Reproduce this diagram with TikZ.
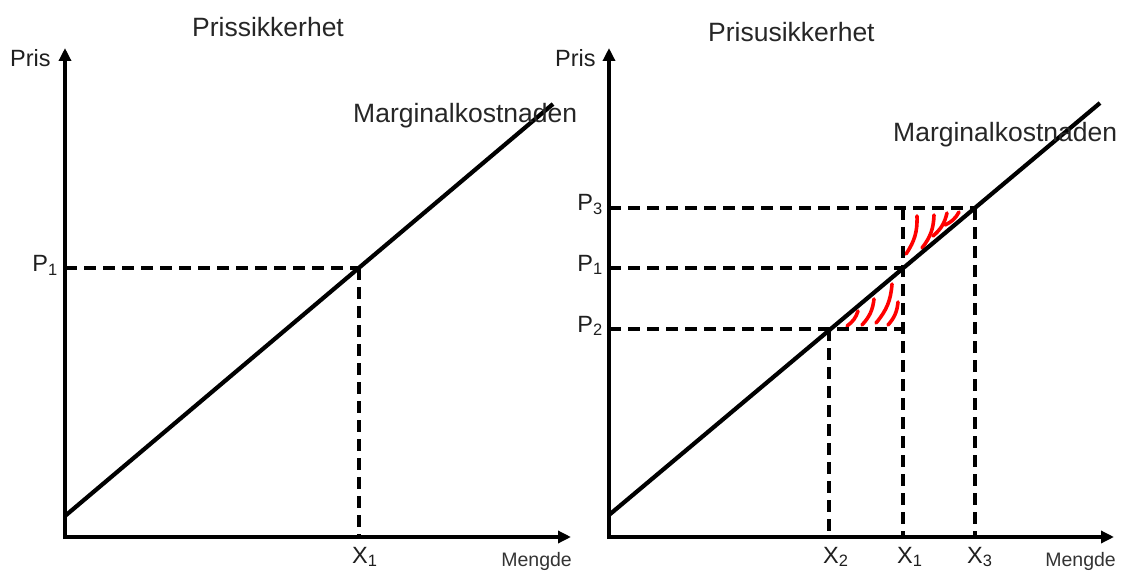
\documentclass[tikz,border=0pt]{standalone}
\usepackage{fontspec}
\setmainfont{Liberation Sans}
\usetikzlibrary{arrows.meta}
\tikzset{
  axisline/.style={line width=4.2pt, -{Triangle[length=13pt,width=12pt]}},
  mccurve/.style={line width=4.2pt},
  guide/.style={line width=4.2pt, dash pattern=on 12pt off 7pt},
  hatch/.style={red, line width=3.6pt, line cap=round},
  lbl/.style={font=\fontsize{23.5}{24}\selectfont, inner sep=0pt, text=black!88},
  ttl/.style={font=\fontsize{26.5}{27}\selectfont, inner sep=0pt, text=black!85},
  sml/.style={font=\fontsize{19.5}{20}\selectfont, inner sep=0pt, text=black!80},
}
\begin{document}
\begin{tikzpicture}[x=1pt,y=1pt]
\useasboundingbox (0,0) rectangle (1122,-572);

% ---------------- Left panel: Prissikkerhet ----------------
\coordinate (LO) at (65,-537);
\coordinate (LYT) at (65,-48);
\coordinate (LXT) at (571,-537);
\coordinate (LMs) at (65,-516);
\coordinate (LMe) at (553,-104);
\coordinate (LA) at (359,-268);
\coordinate (LP1) at (65,-268);
\coordinate (LX1) at (359,-537);

\draw[guide] (LP1) -- (LA);
\draw[guide] (LA) -- (LX1);
\draw[mccurve] (LMs) -- (LMe);
\draw[axisline] (65,-539) -- (LYT);
\draw[axisline] (63,-537) -- (LXT);

\node[ttl, anchor=base west] (ltitle) at (192,-37) {Prissikkerhet};
\node[lbl, anchor=base west] (lpris) at (10,-67) {Pris};
\node[ttl, anchor=base west] (lmc) at (353,-123) {Marginalkostnaden};
\node[lbl, anchor=base east] (lp1lab) at (58,-272) {P\textsubscript{1}};
\node[lbl, anchor=base west] (lx1lab) at (352,-563) {X\textsubscript{1}};
\node[sml, anchor=base east] (lmengde) at (572,-566) {Mengde};

% ---------------- Right panel: Prisusikkerhet ----------------
\coordinate (RO) at (609,-537);
\coordinate (RYT) at (609,-48);
\coordinate (RXT) at (1114,-537);
\coordinate (RMs) at (609,-515);
\coordinate (RMe) at (1100,-103);
\coordinate (RA1) at (903,-268);
\coordinate (RA3) at (975,-208);
\coordinate (RA2) at (829,-329);
\coordinate (RB3) at (903,-208);
\coordinate (RB2) at (903,-329);
\coordinate (RP3) at (609,-208);
\coordinate (RP1) at (609,-268);
\coordinate (RP2) at (609,-329);
\coordinate (RX1) at (903,-537);
\coordinate (RX2) at (829,-537);
\coordinate (RX3) at (975,-537);

% red hatching
\draw[hatch] (906,-254) to[bend right=18] (917,-216);
\draw[hatch] (922,-248) to[bend right=18] (934,-215);
\draw[hatch] (933,-236) to[bend right=18] (947,-213);
\draw[hatch] (945,-225) to[bend right=18] (959,-212);
\draw[hatch] (847,-326) to[bend right=18] (858,-311);
\draw[hatch] (862,-325) to[bend right=18] (874,-299);
\draw[hatch] (876,-323) to[bend right=18] (892,-284);
\draw[hatch] (888,-325) to[bend right=18] (898,-302);

\draw[guide] (RP3) -- (RA3);
\draw[guide] (RP1) -- (RA1);
\draw[guide] (RP2) -- (RB2);
\draw[guide] (RB3) -- (RX1);
\draw[guide] (RA3) -- (RX3);
\draw[guide] (RA2) -- (RX2);
\draw[mccurve] (RMs) -- (RMe);
\draw[axisline] (609,-539) -- (RYT);
\draw[axisline] (607,-537) -- (RXT);

\node[ttl, anchor=base west] (rtitle) at (708,-42) {Prisusikkerhet};
\node[lbl, anchor=base west] (rpris) at (555,-67) {Pris};
\node[ttl, anchor=base west] (rmc) at (893,-142) {Marginalkostnaden};
\node[lbl, anchor=base east] (rp3lab) at (603,-211) {P\textsubscript{3}};
\node[lbl, anchor=base east] (rp1lab) at (603,-271) {P\textsubscript{1}};
\node[lbl, anchor=base east] (rp2lab) at (603,-332) {P\textsubscript{2}};
\node[lbl, anchor=base west] (rx2lab) at (823,-563) {X\textsubscript{2}};
\node[lbl, anchor=base west] (rx1lab) at (897,-563) {X\textsubscript{1}};
\node[lbl, anchor=base west] (rx3lab) at (967,-563) {X\textsubscript{3}};
\node[sml, anchor=base east] (rmengde) at (1116,-566) {Mengde};
\end{tikzpicture}
\end{document}
